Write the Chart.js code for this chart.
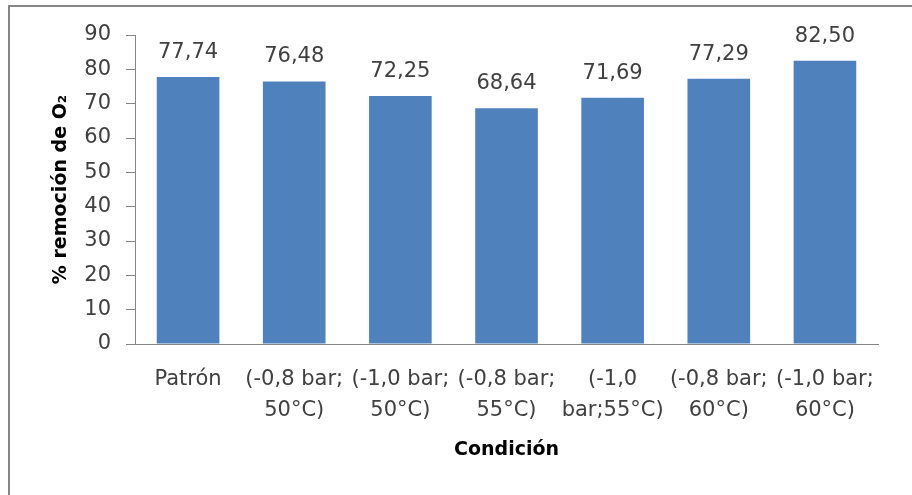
<!DOCTYPE html>
<html>
<head>
<meta charset="utf-8">
<script src="https://cdn.jsdelivr.net/npm/chart.js@4/dist/chart.umd.min.js"></script>
<style>
  html, body { margin: 0; padding: 0; background: #ffffff; overflow: hidden; }
  #wrap { position: relative; width: 912px; height: 495px; }
  #frame {
    position: absolute; left: 8px; top: 5px; width: 1000px; height: 1000px;
    border: 2px solid #868686; box-sizing: border-box;
  }
  #chart { position: absolute; left: 0; top: 0; }
</style>
</head>
<body>
<div id="wrap">
  <div id="frame"></div>
  <canvas id="chart" width="912" height="495"></canvas>
</div>
<script>
// Conditions tested (vacuum pressure; temperature)
const categories = [
  ['Patrón'],
  ['(-0,8 bar;', '50°C)'],
  ['(-1,0 bar;', '50°C)'],
  ['(-0,8 bar;', '55°C)'],
  ['(-1,0', 'bar;55°C)'],
  ['(-0,8 bar;', '60°C)'],
  ['(-1,0 bar;', '60°C)']
];

// Oxygen removal, %
const removal = [77.74, 76.48, 72.25, 68.64, 71.69, 77.29, 82.50];

// Value axis range
const yMin = 0;
const yMax = 90;
const yStep = 10;

const FONT = 'DejaVu Sans';
const TEXT = '#404040';
const AXIS = '#868686';

// Writes each bar's value (decimal comma) above it
const valueLabels = {
  id: 'valueLabels',
  afterDatasetsDraw(chart) {
    const ctx = chart.ctx;
    const meta = chart.getDatasetMeta(0);
    const data = chart.data.datasets[0].data;
    ctx.save();
    ctx.font = '21px "' + FONT + '"';
    ctx.fillStyle = TEXT;
    ctx.textAlign = 'center';
    ctx.textBaseline = 'alphabetic';
    meta.data.forEach((bar, i) => {
      const txt = data[i].toFixed(2).replace('.', ',');
      ctx.fillText(txt, bar.x, bar.y - 19);
    });
    ctx.restore();
  }
};

new Chart(document.getElementById('chart'), {
  type: 'bar',
  data: {
    labels: categories,
    datasets: [{
      data: removal,
      backgroundColor: '#4F81BD',
      borderWidth: 0,
      barPercentage: 0.59,
      categoryPercentage: 1.0
    }]
  },
  options: {
    responsive: false,
    animation: false,
    layout: { padding: { left: 0, top: 35, right: 34, bottom: 0 } },
    plugins: {
      legend: { display: false },
      tooltip: { enabled: false }
    },
    scales: {
      x: {
        offset: true,
        grid: { display: false, drawTicks: false },
        border: { display: true, color: AXIS, width: 1 },
        ticks: {
          color: TEXT,
          font: { family: FONT, size: 21, lineHeight: 1.48 },
          padding: 20,
          autoSkip: false,
          maxRotation: 0,
          minRotation: 0
        },
        title: {
          display: true,
          text: 'Condición',
          color: '#000000',
          font: { family: FONT, size: 19, weight: 'bold' },
          padding: { top: 0, bottom: 34 }
        },
        afterFit(scale) { scale.height = 151; }
      },
      y: {
        min: yMin,
        max: yMax,
        grid: {
          display: true,
          drawOnChartArea: false,
          drawTicks: true,
          tickLength: 9,
          color: AXIS
        },
        border: { display: true, color: AXIS, width: 1 },
        ticks: {
          stepSize: yStep,
          color: TEXT,
          font: { family: FONT, size: 21 },
          padding: 15
        },
        title: {
          display: true,
          text: '% remoción de O₂',
          color: '#000000',
          font: { family: FONT, size: 19, weight: 'bold' },
          padding: { top: 50, bottom: 0 }
        },
        afterFit(scale) { scale.width = 135; }
      }
    }
  },
  plugins: [valueLabels]
});
</script>
</body>
</html>
